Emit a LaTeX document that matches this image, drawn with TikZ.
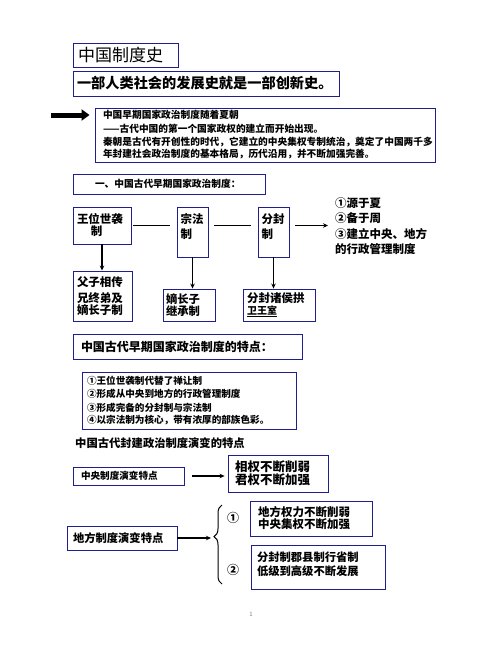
\documentclass[tikz,border=0pt]{standalone}
\usepackage{fontspec}
\setmainfont{Noto Sans CJK SC}
\usetikzlibrary{arrows.meta,decorations.pathreplacing}
\definecolor{boxblue}{RGB}{30,30,140}
\tikzset{
  box/.style={draw=boxblue, line width=0.9pt, inner sep=0pt, align=left},
  link/.style={line width=1.3pt},
  arr/.style={line width=1.2pt, -{Stealth[length=5pt,width=4.5pt]}},
}
\newcommand{\fs}[2]{\fontsize{#1}{#2}\selectfont}

\begin{document}
\begin{tikzpicture}[x=1pt,y=-1pt]
  \useasboundingbox (0,0) rectangle (502,649);

  % Titre
  \node[box, minimum width=105pt, minimum height=24pt, text width=95pt] (title) at (125.5,55) {\fs{17}{20}中国制度史};
  \node[box, minimum width=266pt, minimum height=25pt, text width=258pt] (motto) at (206,83.5) {\fs{14.2}{17}\bfseries 一部人类社会的发展史就是一部创新史。};

  % Introduction
  \node[box, minimum width=340pt, minimum height=54pt, text width=324pt] (intro) at (265,135) {\fs{9.7}{13.5}\bfseries 中国早期国家政治制度随着夏朝\\——古代中国的第一个国家政权的建立而开始出现。\\秦朝是古代有开创性的时代，它建立的中央集权专制统治，奠定了中国两千多\\年封建社会政治制度的基本格局，历代沿用，并不断加强完善。};
  \coordinate (bigtail) at (51,115);
  \draw[line width=5pt, -{Triangle[length=8pt,width=11pt]}, shorten >=5pt] (bigtail) -- (bigtail -| intro.west);

  % Systeme politique ancien
  \node[box, minimum width=192pt, minimum height=20pt, text width=148pt] (early) at (169,184) {\fs{9.7}{12}\bfseries 一、中国古代早期国家政治制度：};
  \node[box, minimum width=58pt, minimum height=37pt, text width=50pt] (wangwei) at (102,225.5) {\fs{11.5}{15}\bfseries 王位世袭\\\hspace{1.2em}制};
  \node[box, minimum width=31pt, minimum height=50pt, text width=24pt] (zongfa) at (192.5,232) {\fs{11.5}{15}\bfseries 宗法\\制\\\mbox{}};
  \node[box, minimum width=31pt, minimum height=50pt, text width=24pt] (fenfeng) at (273.5,232) {\fs{11.5}{15}\bfseries 分封\\制\\\mbox{}};
  \node[align=left, inner sep=0pt, anchor=west, font=\fs{11.5}{15.3}\bfseries] (origin) at (335,226) {①源于夏\\②备于周\\③建立中央、地方\\的行政管理制度};

  \draw[link, shorten <=2pt, shorten >=7pt] (wangwei.east) -- (wangwei.east -| zongfa.west);
  \draw[link, shorten <=6pt, shorten >=7pt] (wangwei.east -| zongfa.east) -- (wangwei.east -| fenfeng.west);
  \draw[arr, shorten <=6pt, shorten >=7pt] (wangwei.east -| fenfeng.east) -- (wangwei.east -| origin.west);

  \node[box, minimum width=59pt, minimum height=50pt, text width=51pt] (fuzi) at (102.5,296) {\fs{11.5}{15.5}\bfseries 父子相传\\兄终弟及\\嫡长子制};
  \node[box, minimum width=52pt, minimum height=32pt, text width=46pt] (dizhang) at (189,305) {\fs{11.3}{14}\bfseries 嫡长子\\继承制};
  \node[box, minimum width=72pt, minimum height=32pt, text width=64pt] (zhuhou) at (279,305) {\fs{11.5}{14}\bfseries 分封诸侯拱\\{\fs{10}{14}\underline{卫王室}}};

  \draw[arr] (wangwei.south) -- (wangwei.south |- fuzi.north);
  \draw[arr] (zongfa.south) -- (zongfa.south |- dizhang.north);
  \draw[arr] (fenfeng.south) -- (fenfeng.south |- zhuhou.north);

  % Caracteristiques
  \node[box, minimum width=229pt, minimum height=25pt, text width=213pt] (tedian) at (187.5,346.5) {\fs{12}{15}\bfseries 中国古代早期国家政治制度的特点：};
  \node[box, minimum width=214pt, minimum height=57pt, text width=204pt] (points) at (189,400.5) {\fs{9.6}{13.3}\bfseries ①王位世袭制代替了禅让制\\②形成从中央到地方的行政管理制度\\③形成完备的分封制与宗法制\\④以宗法制为核心，带有浓厚的部族色彩。};

  % Evolution
  \node[inner sep=0pt, anchor=west] (evol) at (75,443) {\fs{11.3}{14}\bfseries 中国古代封建政治制度演变的特点};
  \node[box, minimum width=111pt, minimum height=18pt, text width=95pt] (central) at (128.5,476) {\fs{9.6}{12}\bfseries 中央制度演变特点};
  \node[box, minimum width=100pt, minimum height=37pt, text width=86pt] (xiangquan) at (278,473.5) {\fs{12.5}{17}\bfseries 相权不断削弱\\君权不断加强};
  \draw[arr, shorten <=8pt, shorten >=3pt] (central.east) -- (central.east -| xiangquan.west);

  \node[box, minimum width=110pt, minimum height=24pt, text width=98pt] (local) at (122,538) {\fs{11.3}{14}\bfseries 地方制度演变特点};
  \coordinate (bracetip) at (211,538);
  \draw[arr, line width=1.8pt] (local.east) -- (bracetip);
  \draw[line width=1pt, decorate, decoration={brace, amplitude=8pt, aspect=0.6}] (222,584) -- (222,505);
  \node[inner sep=0pt] (one) at (233,518) {\fs{12}{14}\bfseries ①};
  \node[inner sep=0pt] (two) at (233,570) {\fs{12}{14}\bfseries ②};
  \node[box, minimum width=122pt, minimum height=35pt, text width=106pt] (difang) at (311,518.5) {\fs{11.5}{16}\bfseries 地方权力不断削弱\\中央集权不断加强};
  \node[box, minimum width=134pt, minimum height=44pt, text width=122pt] (junxian) at (318,567) {\fs{11.3}{14}\bfseries 分封制郡县制行省制\\低级到高级不断发展\\[-6pt]\mbox{}};

  \node[text=gray, inner sep=0pt] (pagenum) at (251,614) {\fs{6}{7}1};
\end{tikzpicture}
\end{document}
